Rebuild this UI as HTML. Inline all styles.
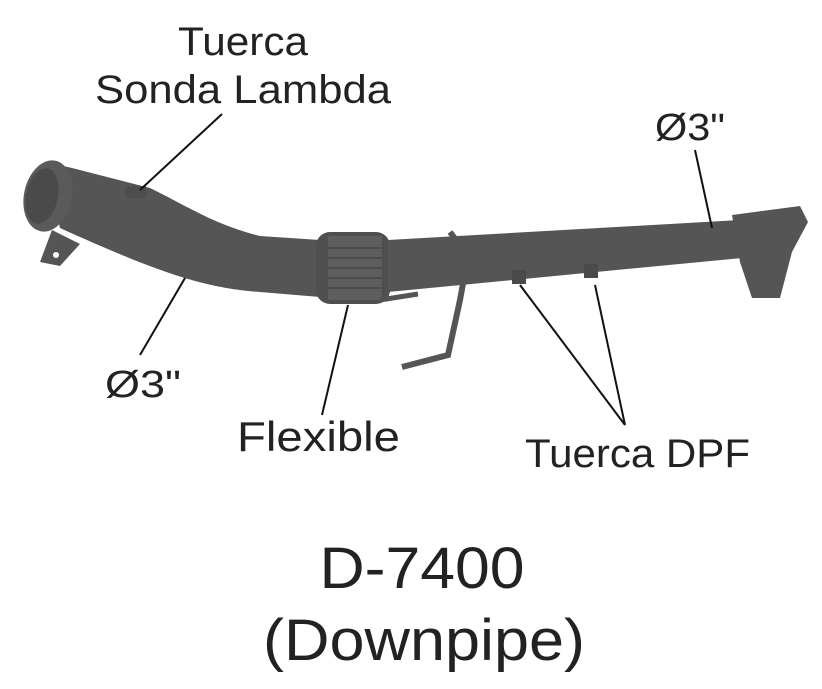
<!DOCTYPE html>
<html><head><meta charset="utf-8"><style>
html,body{margin:0;padding:0;background:#fff;}
svg{display:block;}
text{font-family:"Liberation Sans","DejaVu Sans",sans-serif;fill:#222;}
</style></head><body>
<svg width="822" height="689" viewBox="0 0 822 689" xmlns="http://www.w3.org/2000/svg">
<!-- left bracket -->
<polygon points="52,230 80,244 60,266 40,262" fill="#555"/>
<circle cx="56" cy="255" r="3" fill="#fff"/>
<!-- left pipe bending -->
<path d="M45,162 L72,168 L150,188 C185,205 215,225 260,236 L320,240 L320,297 L260,292 C210,288 170,278 60,228 Z" fill="#555"/>
<!-- left opening -->
<ellipse cx="48" cy="196" rx="24" ry="36" transform="rotate(12 48 196)" fill="#5a5a5a"/>
<ellipse cx="42" cy="196" rx="16" ry="28" transform="rotate(12 42 196)" fill="#4a4a4a"/>
<!-- lambda nut -->
<rect x="126" y="186" width="20" height="12" fill="#4d4d4d"/>
<!-- flexible -->
<rect x="316" y="232" width="74" height="72" rx="14" fill="#4f4f4f"/>
<rect x="328" y="236" width="54" height="64" fill="#5e5e5e"/>
<g stroke="#474747" stroke-width="1.5">
<line x1="328" y1="248" x2="382" y2="248"/><line x1="328" y1="258" x2="382" y2="258"/><line x1="328" y1="268" x2="382" y2="268"/><line x1="328" y1="278" x2="382" y2="278"/><line x1="328" y1="288" x2="382" y2="288"/>
</g>
<!-- right pipe -->
<path d="M388,240 L740,220 L742,258 L388,292 Z" fill="#555"/>
<!-- DPF nuts -->
<rect x="512" y="270" width="14" height="14" fill="#4a4a4a"/>
<rect x="584" y="264" width="14" height="14" fill="#4a4a4a"/>
<!-- sensor tube -->
<polyline points="450,232 468,256 460,300 448,355 402,367" fill="none" stroke="#555" stroke-width="6"/>
<polyline points="380,300 418,294" fill="none" stroke="#555" stroke-width="5"/>
<!-- right flange -->
<polygon points="732,215 800,206 808,222 792,252 780,298 752,298 740,262" fill="#555"/>
<!-- leader lines -->
<g stroke="#111" stroke-width="2" fill="none">
<line x1="222" y1="114" x2="140" y2="190"/>
<line x1="695" y1="150" x2="712" y2="228"/>
<line x1="140" y1="355" x2="185" y2="278"/>
<line x1="322" y1="415" x2="348" y2="305"/>
<line x1="625" y1="425" x2="520" y2="285"/>
<line x1="625" y1="425" x2="595" y2="285"/>
</g>
<!-- labels -->
<text x="243" y="55" font-size="40" text-anchor="middle" textLength="130" lengthAdjust="spacingAndGlyphs">Tuerca</text>
<text x="243" y="103" font-size="40" text-anchor="middle" textLength="296" lengthAdjust="spacingAndGlyphs">Sonda Lambda</text>
<text x="655" y="140" font-size="38" textLength="70" lengthAdjust="spacingAndGlyphs">Ø3"</text>
<text x="105" y="397" font-size="38" textLength="76" lengthAdjust="spacingAndGlyphs">Ø3"</text>
<text x="237" y="451" font-size="42" textLength="163" lengthAdjust="spacingAndGlyphs">Flexible</text>
<text x="525" y="467" font-size="40" textLength="225" lengthAdjust="spacingAndGlyphs">Tuerca DPF</text>
<text x="422" y="588" font-size="58" text-anchor="middle" textLength="205" lengthAdjust="spacingAndGlyphs">D-7400</text>
<text x="424" y="660" font-size="58" text-anchor="middle" textLength="322" lengthAdjust="spacingAndGlyphs">(Downpipe)</text>
</svg>
</body></html>
